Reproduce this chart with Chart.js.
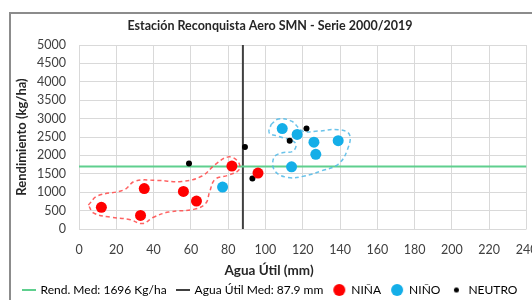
<!DOCTYPE html>
<html>
<head>
<meta charset="utf-8">
<script src="https://cdn.jsdelivr.net/npm/chart.js@4"></script>
<style>
  html, body { margin: 0; padding: 0; background: #fff; }
  #wrap { width: 532px; height: 300px; }
</style>
</head>
<body>
<div id="wrap"><canvas id="chart"></canvas></div>
<script>
// Campañas 2000/2019 - agua útil (mm) vs rendimiento (kg/ha)
const ninaX = [12, 33, 35, 56, 63, 82, 96];
const ninaY = [590, 370, 1100, 1020, 760, 1710, 1520];
const ninoX = [77, 109, 114, 117, 126, 127, 139];
const ninoY = [1140, 2730, 1690, 2570, 2360, 2030, 2400];
const neutroX = [59, 89, 93, 113, 122];
const neutroY = [1780, 2230, 1370, 2400, 2730];

const rendMed = 1696;
const aguaMed = 87.9;

// contornos punteados dibujados a mano
const ninaHullX = [5, 10, 24, 30, 42, 55, 66, 73, 80, 85, 86, 80, 73, 70, 68, 62, 48, 40, 34, 27, 17, 8, 5];
const ninaHullY = [650, 900, 1060, 1300, 1320, 1290, 1440, 1750, 1960, 1850, 1620, 1460, 1350, 1000, 700, 540, 460, 320, 150, 260, 320, 430, 650];
const ninoHullX = [103, 107, 114, 120, 128, 139, 145, 144, 139, 130, 121, 112, 105, 104.5, 109, 115, 116, 107, 102, 103];
const ninoHullY = [2840, 2990, 2930, 2660, 2660, 2700, 2570, 2160, 1760, 1580, 1440, 1400, 1580, 1940, 2070, 2120, 2340, 2520, 2610, 2840];

const xTicks = [0, 20, 40, 60, 80, 100, 120, 140, 160, 180, 200, 220, 240];
const yTicks = [0, 500, 1000, 1500, 2000, 2500, 3000, 3500, 4000, 4500, 5000];

const RED = '#ff0000';
const BLUE = '#14aee8';
const GREEN = '#5fcf8e';
const FONT = 'Lato, "Open Sans", sans-serif';

const pts = (xs, ys) => xs.map((x, i) => ({ x: x, y: ys[i] }));

function lineIcon(color) {
    const c = document.createElement('canvas');
    c.width = 14; c.height = 2;
    const g = c.getContext('2d');
    g.fillStyle = color;
    g.fillRect(0, 0, 14, 2);
    return c;
}
function dotIcon(color, r) {
    const c = document.createElement('canvas');
    c.width = r * 2 + 2; c.height = r * 2 + 2;
    const g = c.getContext('2d');
    g.fillStyle = color;
    g.beginPath();
    g.arc(r + 1, r + 1, r, 0, Math.PI * 2);
    g.fill();
    return c;
}

const frame = {
    id: 'frame',
    beforeDraw(chart) {
        const ctx = chart.ctx;
        ctx.save();
        ctx.strokeStyle = '#8c8c8c';
        ctx.lineWidth = 2;
        ctx.strokeRect(10, 13, 700, 500);
        ctx.restore();
    },
    afterDraw(chart) {
        const ctx = chart.ctx;
        ctx.save();
        ctx.fillStyle = '#262626';
        ctx.font = 'bold 13.5px ' + FONT;
        ctx.textAlign = 'center';
        ctx.textBaseline = 'middle';
        ctx.fillText('Agua Útil (mm)', 269, 271);
        ctx.restore();
    }
};

new Chart(document.getElementById('chart'), {
    type: 'scatter',
    data: {
        datasets: [
            { label: 'NIÑA', data: pts(ninaX, ninaY), backgroundColor: RED, borderColor: RED, pointRadius: 5.5, pointHoverRadius: 5.5, borderWidth: 0, order: 0 },
            { label: 'NIÑO', data: pts(ninoX, ninoY), backgroundColor: BLUE, borderColor: BLUE, pointRadius: 5.5, pointHoverRadius: 5.5, borderWidth: 0, order: 0 },
            { label: 'NEUTRO', data: pts(neutroX, neutroY), backgroundColor: '#000', borderColor: '#000', pointRadius: 3, pointHoverRadius: 3, borderWidth: 0, order: 0 },
            { label: 'nina hull', data: pts(ninaHullX, ninaHullY), showLine: true, tension: 0.4, borderColor: 'rgba(255,70,70,0.85)', borderWidth: 1.5, borderDash: [4, 3], pointRadius: 0, fill: false, order: 1 },
            { label: 'nino hull', data: pts(ninoHullX, ninoHullY), showLine: true, tension: 0.4, borderColor: 'rgba(80,185,230,0.85)', borderWidth: 1.5, borderDash: [4, 3], pointRadius: 0, fill: false, order: 1 },
            { label: 'Rend. Med', data: [{ x: 0, y: rendMed }, { x: 240, y: rendMed }], showLine: true, borderColor: GREEN, borderWidth: 2, pointRadius: 0, order: 2 },
            { label: 'Agua Util Med', data: [{ x: aguaMed, y: 0 }, { x: aguaMed, y: 5000 }], showLine: true, borderColor: '#404040', borderWidth: 2, pointRadius: 0, order: 2 }
        ]
    },
    options: {
        responsive: true,
        maintainAspectRatio: false,
        animation: false,
        layout: { padding: { top: 12, left: 12, right: 4, bottom: -6 } },
        scales: {
            x: {
                type: 'linear', min: 0, max: 240,
                afterBuildTicks: s => { s.ticks = xTicks.map(v => ({ value: v })); },
                afterFit: s => { s.height = 45; s.paddingLeft = 0; s.paddingRight = 0; },
                grid: { color: '#d9d9d9', drawTicks: false },
                border: { display: false },
                ticks: { color: '#404040', font: { family: FONT, size: 12.5 }, padding: 13, maxRotation: 0 }
            },
            y: {
                type: 'linear', min: 0, max: 5000,
                afterBuildTicks: s => { s.ticks = yTicks.map(v => ({ value: v })); },
                afterFit: s => { s.width = 67; },
                grid: { color: '#d9d9d9', drawTicks: false },
                border: { display: false },
                ticks: { color: '#404040', font: { family: FONT, size: 12.5 }, padding: 13, callback: v => String(v) },
                title: { display: true, text: 'Rendimiento (kg/ha)', color: '#262626', font: { family: FONT, size: 13, weight: 'bold' }, padding: 2 }
            }
        },
        plugins: {
            title: {
                display: true,
                text: 'Estación Reconquista Aero SMN - Serie 2000/2019',
                color: '#262626',
                font: { family: FONT, size: 12.5, weight: 'bold' },
                padding: { top: 6, bottom: 12 }
            },
            legend: {
                position: 'bottom',
                labels: {
                    usePointStyle: true,
                    boxWidth: 12,
                    boxHeight: 12,
                    padding: 10,
                    color: '#262626',
                    font: { family: FONT, size: 12 },
                    generateLabels: () => [
                        { text: 'Rend. Med: 1696 Kg/ha', pointStyle: lineIcon(GREEN), fillStyle: GREEN, strokeStyle: GREEN, lineWidth: 0, hidden: false },
                        { text: 'Agua Útil Med: 87.9 mm', pointStyle: lineIcon('#404040'), fillStyle: '#404040', strokeStyle: '#404040', lineWidth: 0, hidden: false },
                        { text: 'NIÑA', pointStyle: dotIcon(RED, 6), fillStyle: RED, strokeStyle: RED, lineWidth: 0, hidden: false },
                        { text: 'NIÑO', pointStyle: dotIcon(BLUE, 6), fillStyle: BLUE, strokeStyle: BLUE, lineWidth: 0, hidden: false },
                        { text: 'NEUTRO', pointStyle: dotIcon('#000', 2.5), fillStyle: '#000', strokeStyle: '#000', lineWidth: 0, hidden: false }
                    ]
                }
            },
            tooltip: { enabled: false }
        }
    },
    plugins: [frame]
});
</script>
</body>
</html>
